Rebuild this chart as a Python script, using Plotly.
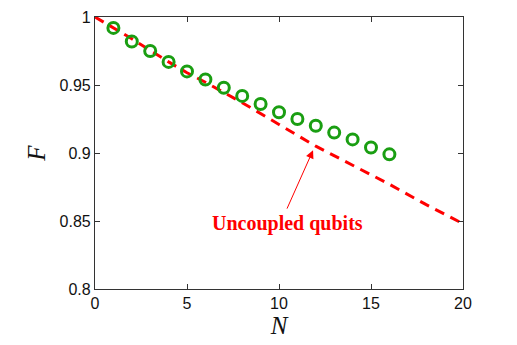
import plotly.graph_objects as go

# fidelity F versus number of qubits N
n_points = list(range(1, 17))
f_points = [0.992, 0.982, 0.975, 0.967, 0.960, 0.954, 0.948, 0.942,
            0.936, 0.930, 0.925, 0.920, 0.915, 0.910, 0.904, 0.899]

# uncoupled qubits curve
n_line = [0, 2, 4, 5, 6, 8, 10, 12, 14, 16, 18, 20]
f_line = [1.000, 0.984, 0.967, 0.959, 0.952, 0.937, 0.921, 0.905,
          0.891, 0.877, 0.862, 0.848]

x_ticks = [0, 5, 10, 15, 20]
y_ticks = [0.8, 0.85, 0.9, 0.95, 1]
y_labels = ["0.8", "0.85", "0.9", "0.95", "1"]

fig = go.Figure()

fig.add_scatter(
    x=n_line, y=f_line, mode="lines",
    line=dict(color="#ff0000", width=3, dash="10px,7px"),
    cliponaxis=False,
)
fig.add_scatter(
    x=n_points, y=f_points, mode="markers",
    marker=dict(symbol="circle-open", size=11, color="#1a9e12",
                line=dict(width=3, color="#1a9e12")),
)

fig.add_annotation(
    x=11.85, y=0.902, xref="x", yref="y",
    ax=10.4, ay=0.858, axref="x", ayref="y",
    text="", showarrow=True, arrowhead=2, arrowsize=1.6,
    arrowwidth=1, arrowcolor="#ff0000",
)
fig.add_annotation(
    x=10.45, y=0.848, xref="x", yref="y", showarrow=False,
    text="<b>Uncoupled qubits</b>",
    font=dict(family="Liberation Serif", size=20, color="#ff0000"),
)

axis_common = dict(
    showgrid=False, zeroline=False, showline=True, mirror="ticks",
    linecolor="#333333", linewidth=1.2, ticks="inside", ticklen=5,
    tickcolor="#333333", automargin=False,
    tickfont=dict(family="Liberation Sans", size=16, color="#111111"),
)
fig.update_xaxes(
    range=[0, 20], tickvals=x_ticks,
    title=dict(text="<i>N</i>", font=dict(family="Liberation Serif", size=25, color="#111111"),
               standoff=0),
    **axis_common,
)
fig.update_yaxes(
    range=[0.8, 1], tickvals=y_ticks, ticktext=y_labels,
    title=dict(text="<i>F</i>", font=dict(family="Liberation Serif", size=25, color="#111111"),
               standoff=6),
    **axis_common,
)

# page body adds an 8px offset, so margins are reduced by that
fig.update_layout(
    width=517, height=345,
    margin=dict(l=87, r=62, t=9, b=64, autoexpand=False),
    showlegend=False,
    plot_bgcolor="white", paper_bgcolor="white",
)
fig.write_html("out.html")
